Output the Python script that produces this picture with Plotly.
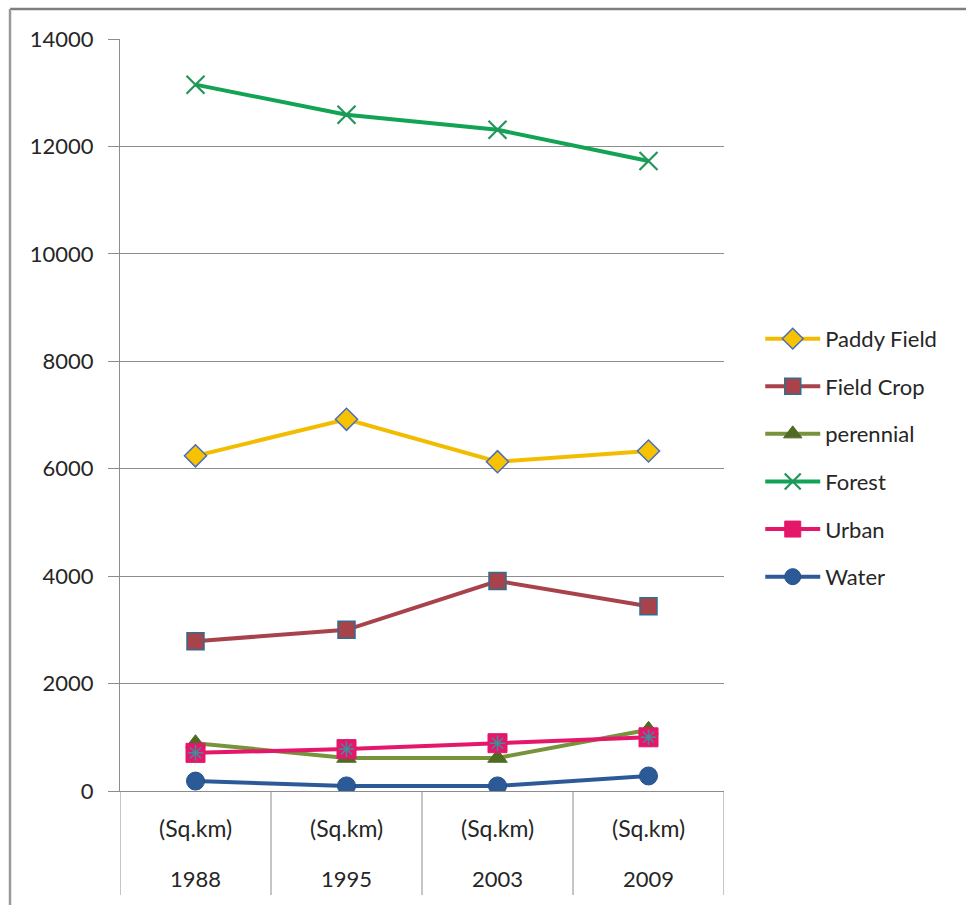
import plotly.graph_objects as go

# Land-use area by year (sq. km)
years = ["1988", "1995", "2003", "2009"]
units = ["(Sq.km)", "(Sq.km)", "(Sq.km)", "(Sq.km)"]

paddy_field = [6240, 6920, 6130, 6330]
field_crop = [2790, 3000, 3910, 3440]
perennial = [890, 615, 615, 1140]
forest = [13150, 12590, 12310, 11730]
urban = [710, 780, 890, 1000]
water = [185, 95, 95, 280]

y_ticks = [0, 2000, 4000, 6000, 8000, 10000, 12000, 14000]

FONT = "Lato, 'Open Sans', sans-serif"
TEXT = "#262626"
GRID = "#8c8c8c"
FS = 22

W, H = 966, 905
M_L, M_R, M_T, M_B = 120, 242, 39, 114

fig = go.Figure()

series = [
    dict(name="Paddy Field", y=paddy_field, line="#f2bd00",
         marker=dict(symbol="diamond", size=17, color="#f7c300",
                     line=dict(color="#4a6cc0", width=1.5))),
    dict(name="Field Crop", y=field_crop, line="#a8434b",
         marker=dict(symbol="square", size=17, color="#a8434b",
                     line=dict(color="#2f6f8f", width=1.5))),
    dict(name="perennial", y=perennial, line="#77933c",
         marker=dict(symbol="triangle-up", size=17, color="#4f6a22",
                     line=dict(color="#4f6a22", width=1))),
    dict(name="Forest", y=forest, line="#12a354",
         marker=dict(symbol="x-thin", size=18, color="#23955a",
                     line=dict(color="#23955a", width=2.2))),
    dict(name="Urban", y=urban, line="#e5176a",
         marker=dict(symbol="square", size=19, color="#e5176a",
                     line=dict(color="#e5176a", width=1))),
    dict(name="Water", y=water, line="#2c5a97",
         marker=dict(symbol="circle", size=18, color="#2c5a97",
                     line=dict(color="#25508a", width=1))),
]

for s in series:
    fig.add_trace(go.Scatter(
        x=years, y=s["y"], name=s["name"], mode="lines+markers",
        line=dict(color=s["line"], width=4),
        marker=s["marker"], legendgroup=s["name"],
    ))
    if s["name"] == "Urban":
        # asterisk drawn inside the urban square markers
        fig.add_trace(go.Scatter(
            x=years, y=urban, mode="markers", showlegend=False,
            legendgroup="Urban", hoverinfo="skip",
            marker=dict(symbol="asterisk-open", size=13, color="#3f8c9a",
                        line=dict(color="#3f8c9a", width=1.5)),
        ))

fig.update_layout(
    width=W, height=H,
    margin=dict(l=M_L, r=M_R, t=M_T, b=M_B),
    paper_bgcolor="white", plot_bgcolor="white",
    font=dict(family=FONT, size=FS, color=TEXT),
    legend=dict(
        x=1.06, y=0.443, xanchor="left", yanchor="middle",
        font=dict(family=FONT, size=FS, color=TEXT),
        traceorder="grouped", tracegroupgap=16, itemwidth=55,
        bgcolor="rgba(0,0,0,0)",
    ),
    showlegend=True,
)

fig.update_yaxes(
    range=[0, 14000], tickvals=y_ticks, ticktext=[str(v) for v in y_ticks],
    showgrid=True, gridcolor=GRID, gridwidth=1,
    ticks="outside", ticklen=11, tickcolor=GRID, tickwidth=1,
    showline=True, linecolor=GRID, linewidth=1,
    zeroline=False, ticklabelstandoff=10,
    tickfont=dict(family=FONT, size=FS, color=TEXT),
)

fig.update_xaxes(
    type="category", categoryorder="array", categoryarray=years,
    range=[-0.5, len(years) - 0.5],
    showline=True, linecolor=GRID, linewidth=1,
    showgrid=False, ticks="", showticklabels=False,
)

# two-level category labels below the axis (placed by category index)
for i, (yr, un) in enumerate(zip(years, units)):
    fig.add_annotation(x=i, y=0, xref="x", yref="paper", text=un,
                       showarrow=False, yanchor="middle", yshift=-37,
                       font=dict(family=FONT, size=FS + 1, color=TEXT))
    fig.add_annotation(x=i, y=0, xref="x", yref="paper", text=yr,
                       showarrow=False, yanchor="middle", yshift=-87,
                       font=dict(family=FONT, size=FS, color=TEXT))

# category dividers running down through the label rows
for k in range(len(years) + 1):
    fig.add_shape(type="line", xref="x", yref="paper",
                  ysizemode="pixel", yanchor=0,
                  x0=k - 0.5, x1=k - 0.5, y0=0, y1=-104,
                  line=dict(color=GRID, width=1))

# outer chart frame (top and left edges)
px_w = W - M_L - M_R
px_h = H - M_T - M_B
top = (H - M_B - 9) / px_h
left = (10 - M_L) / px_w
fig.add_shape(type="line", xref="paper", yref="paper",
              x0=left, x1=(W - M_L) / px_w, y0=top, y1=top,
              line=dict(color="#7f7f7f", width=2.5))
fig.add_shape(type="line", xref="paper", yref="paper",
              x0=left, x1=left, y0=top, y1=-M_B / px_h,
              line=dict(color="#9a9a9a", width=2.5))

fig.write_html("out.html")
